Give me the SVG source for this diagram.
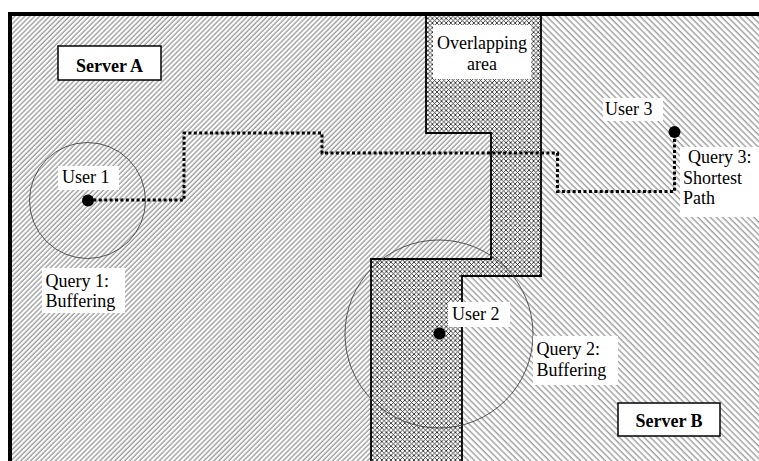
<svg xmlns="http://www.w3.org/2000/svg" width="759" height="461" viewBox="0 0 759 461">
<defs>
<pattern id="hA" patternUnits="userSpaceOnUse" width="3.5" height="10" patternTransform="rotate(45)">
<line x1="1" y1="0" x2="1" y2="10" stroke="#555" stroke-width="0.85"/>
</pattern>
<pattern id="hB" patternUnits="userSpaceOnUse" width="4.4" height="10" patternTransform="rotate(-45)">
<line x1="1" y1="0" x2="1" y2="10" stroke="#555" stroke-width="0.85"/>
</pattern>
<pattern id="hX" patternUnits="userSpaceOnUse" width="4.6" height="4.6">
<rect width="4.6" height="4.6" fill="#fff"/>
<path d="M0,0 L4.6,4.6 M4.6,0 L0,4.6" stroke="#222" stroke-width="0.85"/>
</pattern>
<style>
text{font-family:"Liberation Serif","Times New Roman",serif;font-size:18px;fill:#000}
.b{font-weight:bold}
.lbl{fill:#fff;stroke:none}
.srv{fill:#fff;stroke:#000;stroke-width:1.5}
.buf{fill:none;stroke:#444;stroke-width:0.9}
.bd{fill:none;stroke:#000;stroke-width:1.8}
.path{fill:none;stroke:#000;stroke-width:3;stroke-dasharray:3 2.4}
</style>
</defs>
<rect width="759" height="461" fill="#fff"/>
<g id="regionA">
<path d="M12,16 H541 V276 H462 V461 H12 Z" fill="url(#hA)"/>
</g>
<g id="regionB">
<path d="M426,16 H759 V461 H371 V259 H491 V133 H426 Z" fill="url(#hB)"/>
</g>
<g id="overlap">
<path d="M426,16 H541 V276 H462 V461 H371 V259 H491 V133 H426 Z" fill="url(#hX)"/>
<path class="bd" d="M426,16 V133 H491 V259 H371 V461"/>
<path class="bd" d="M541,16 V276 H462 V461"/>
<rect class="lbl" x="433" y="25" width="98" height="54"/>
<text x="482" y="49" text-anchor="middle">Overlapping</text>
<text x="482" y="70" text-anchor="middle">area</text>
</g>
<path d="M10,461 V14 H759" fill="none" stroke="#000" stroke-width="4"/>
<g id="buffers">
<circle class="buf" cx="87.5" cy="200.5" r="58"/>
<circle class="buf" cx="439" cy="334" r="94"/>
</g>
<g id="connectors">
<path class="path" d="M88,200 H184 V133 H322 V153 H557.5 V191.5 H674.5 V132"/>
</g>
<g id="serverA">
<rect class="srv" x="58" y="46" width="103" height="34"/>
<text class="b" x="109.5" y="72" text-anchor="middle">Server A</text>
</g>
<g id="serverB">
<rect class="srv" x="618" y="403" width="102" height="33"/>
<text class="b" x="669" y="427" text-anchor="middle">Server B</text>
</g>
<g id="user1">
<rect class="lbl" x="58" y="166" width="61" height="24"/>
<text x="62" y="183">User 1</text>
<circle cx="88" cy="200.5" r="6" fill="#000"/>
</g>
<g id="query1">
<rect class="lbl" x="42" y="268" width="83" height="45"/>
<text x="45.5" y="287">Query 1:</text>
<text x="45.5" y="307">Buffering</text>
</g>
<g id="user2">
<rect class="lbl" x="448" y="302" width="62" height="25"/>
<text x="452" y="320">User 2</text>
<circle cx="439.5" cy="333.5" r="6" fill="#000"/>
</g>
<g id="query2">
<rect class="lbl" x="533" y="336" width="85" height="49"/>
<text x="536.5" y="355">Query 2:</text>
<text x="536.5" y="376">Buffering</text>
</g>
<g id="user3">
<rect class="lbl" x="603" y="98" width="60" height="23"/>
<text x="605" y="115">User 3</text>
<circle cx="674.5" cy="132" r="6" fill="#000"/>
</g>
<g id="query3">
<rect class="lbl" x="680" y="147" width="79" height="70"/>
<text x="688" y="163">Query 3:</text>
<text x="683" y="184">Shortest</text>
<text x="683" y="204">Path</text>
</g>
</svg>
